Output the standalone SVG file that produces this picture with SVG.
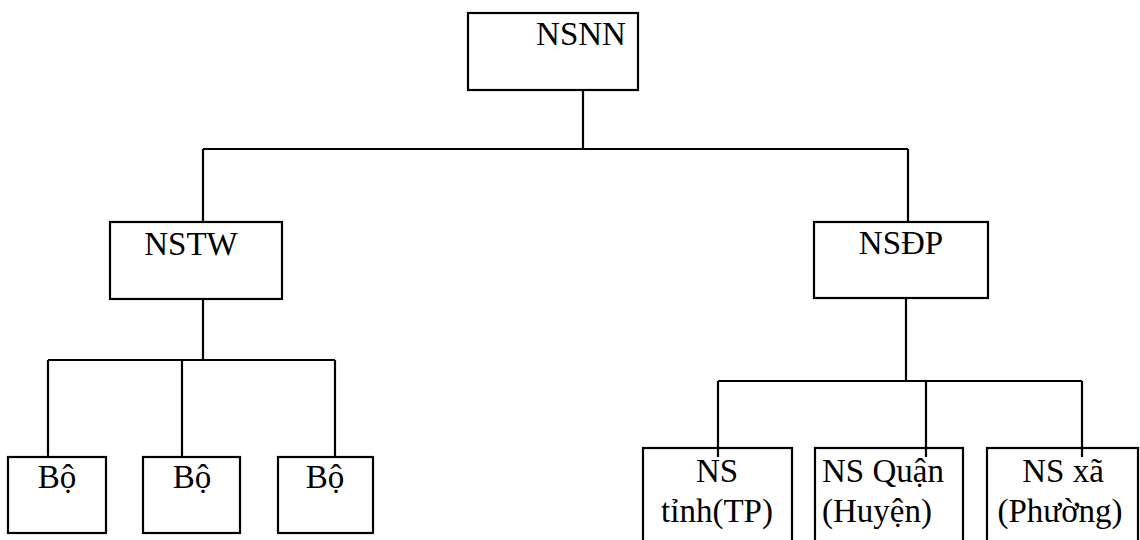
<svg xmlns="http://www.w3.org/2000/svg" width="1140" height="540" viewBox="0 0 1140 540">
<style>
.box{fill:#fff;stroke:#000;stroke-width:2.2}
.ln{fill:none;stroke:#000;stroke-width:2.2}
.t{font-family:'Liberation Serif','Times New Roman',serif;font-size:33px;fill:#000;text-anchor:middle}
</style>
<rect width="1140" height="540" fill="#fff"/>
<g id="nsnn"><rect class="box" x="468" y="13" width="170" height="77"/><text class="t" x="581" y="45">NSNN</text></g>
<g id="nstw"><rect class="box" x="110" y="222" width="172" height="77"/><text class="t" x="191" y="255">NSTW</text></g>
<g id="nsdp"><rect class="box" x="814" y="222" width="174" height="76"/><text class="t" x="901" y="254">NSĐP</text></g>
<g id="bo1"><rect class="box" x="8" y="457" width="98" height="76"/><text class="t" x="57" y="488">Bộ</text></g>
<g id="bo2"><rect class="box" x="143" y="457" width="97" height="76"/><text class="t" x="192" y="488">Bộ</text></g>
<g id="bo3"><rect class="box" x="278" y="457" width="95" height="76"/><text class="t" x="325" y="488">Bộ</text></g>
<g id="nstinh"><rect class="box" x="643" y="448" width="149" height="100"/><text class="t" x="717" y="482">NS</text><text class="t" x="717" y="522">tỉnh(TP)</text></g>
<g id="nsquan"><rect class="box" x="815" y="448" width="148" height="100"/><text class="t" x="883" y="482">NS Quận</text><text class="t" x="877" y="522">(Huyện)</text></g>
<g id="nsxa"><rect class="box" x="987" y="448" width="151" height="100"/><text class="t" x="1063" y="482">NS xã</text><text class="t" x="1060" y="522">(Phường)</text></g>
<g id="connectors">
<path class="ln" d="M583 90V149M203 149H908M203 149V222M908 149V222"/>
<path class="ln" d="M203 299V360M48 360H335M48 360V457M182 360V457M335 360V457"/>
<path class="ln" d="M906 298V381M718 381H1082M718 381V457M926 381V457M1082 381V457"/>
</g>
</svg>
